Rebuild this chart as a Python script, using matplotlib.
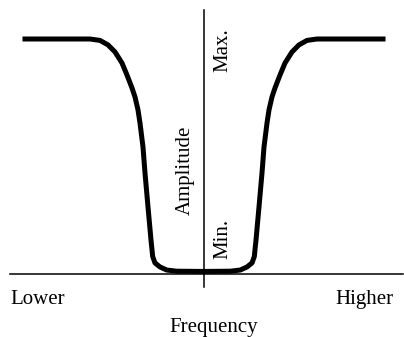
import matplotlib.pyplot as plt

# notch response, frequency (relative to centre) vs amplitude (1 = max)
freq_left = [-1.785, -1.135, -1.035, -0.955, -0.885, -0.815, -0.765, -0.715,
             -0.685, -0.655, -0.635, -0.605, -0.585, -0.555, -0.525, -0.508,
             -0.485, -0.435, -0.368, -0.268, 0.0]
amp_left = [1.0, 1.0, 0.994, 0.975, 0.945, 0.898, 0.847, 0.792,
            0.754, 0.699, 0.643, 0.541, 0.431, 0.287, 0.146, 0.076,
            0.049, 0.032, 0.019, 0.014, 0.013]
freq_right = [0.268, 0.368, 0.435, 0.485, 0.508, 0.525, 0.555, 0.585,
              0.605, 0.635, 0.655, 0.685, 0.715, 0.765, 0.815, 0.885,
              0.955, 1.035, 1.135, 1.795]
amp_right = [0.014, 0.019, 0.032, 0.049, 0.076, 0.146, 0.287, 0.431,
             0.541, 0.643, 0.699, 0.754, 0.792, 0.847, 0.898, 0.945,
             0.975, 0.994, 1.0, 1.0]

x_axis = [-1.935, 1.995]
y_axis = [-0.053, 1.123]

plt.rcParams['font.family'] = ['Liberation Serif', 'DejaVu Serif']

fig = plt.figure(figsize=(4.04, 3.37), dpi=100)
ax = fig.add_axes([0, 0, 1, 1])
ax.set_xlim(-2.035, 2.005)
ax.set_ylim(-0.2654, 1.1656)
ax.set_axis_off()

ax.plot(x_axis, [0, 0], color='black', linewidth=1.1)
ax.plot([0, 0], y_axis, color='black', linewidth=1.1)
ax.plot(freq_left + freq_right, amp_left + amp_right, color='black',
        linewidth=3.6, solid_joinstyle='round')

fs = 15
ax.text(-1.935, -0.125, 'Lower', fontsize=fs, ha='left', va='baseline')
ax.text(1.895, -0.125, 'Higher', fontsize=fs, ha='right', va='baseline')
ax.text(0.102, -0.244, 'Frequency', fontsize=fs, ha='center', va='baseline')
ax.text(0.195, 0.953, 'Max.', fontsize=fs, ha='center', va='center', rotation=90)
ax.text(-0.185, 0.444, 'Amplitude', fontsize=fs, ha='center', va='center', rotation=90)
ax.text(0.195, 0.149, 'Min.', fontsize=fs, ha='center', va='center', rotation=90)

fig.savefig('out.png', dpi=100)
